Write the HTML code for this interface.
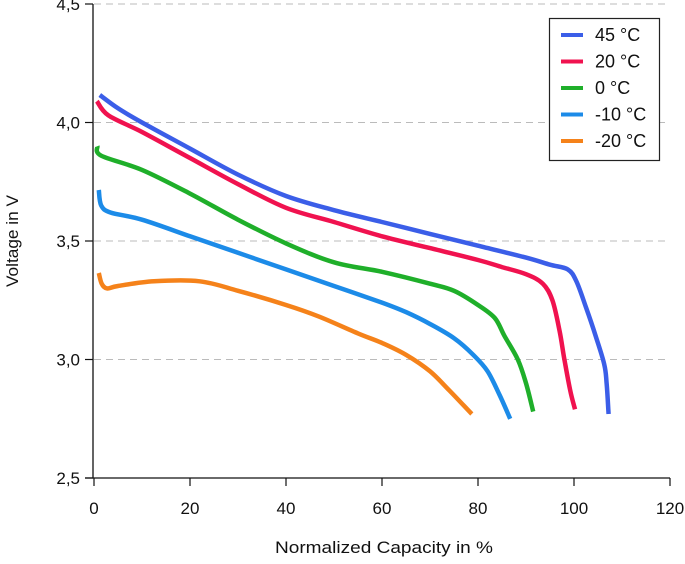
<!DOCTYPE html>
<html><head><meta charset="utf-8"><style>
html,body{margin:0;padding:0;background:#fff;}
svg text{font-family:"Liberation Sans",sans-serif;fill:#111;}
</style></head><body>
<svg id="chart" width="685" height="559" viewBox="0 0 685 559" xmlns="http://www.w3.org/2000/svg">
<g id="grid"></g>
<g id="axes"></g>
<g id="series"></g>
<text x="384" y="553" text-anchor="middle" font-size="17" textLength="218" lengthAdjust="spacingAndGlyphs">Normalized Capacity in %</text>
<text transform="translate(18,241) rotate(-90)" text-anchor="middle" font-size="17" textLength="92" lengthAdjust="spacingAndGlyphs">Voltage in V</text>
<g>
<rect x="549.5" y="18.5" width="110" height="142" fill="#fff" stroke="#222" stroke-width="1.2"/>
<g id="legend-items"></g>
</g>
</svg>
<script>
const xTicks=[0,20,40,60,80,100,120];
const yTicks=[2.5,3.0,3.5,4.0,4.5];
const yTickLabels=["2,5","3,0","3,5","4,0","4,5"];
const seriesNames=["45 °C","20 °C","0 °C","-10 °C","-20 °C"];
const seriesColors=["#3b5ee8","#f0124f","#1faf2a","#1c8be8","#f5821a"];
const cap45=[1.2,5,10,20,30,40,50,60,70,80,90,95,98.7,100.5,102.5,104.5,106.3,106.8,107.2];
const volt45=[4.116,4.06,4.0,3.89,3.78,3.69,3.63,3.58,3.53,3.48,3.43,3.40,3.38,3.33,3.22,3.10,2.98,2.90,2.77];
const cap20=[0.6,3,10,20,30,40,50,60,70,80,85,90,93.5,95.5,97,98,99.2,100.2];
const volt20=[4.09,4.03,3.96,3.85,3.74,3.64,3.58,3.52,3.47,3.42,3.39,3.36,3.32,3.25,3.12,3.0,2.87,2.79];
const cap0=[0.7,1.5,10,20,30,40,50,60,70,75,80,83.5,85.5,88.3,90,91.5];
const volt0=[3.9,3.86,3.80,3.70,3.59,3.49,3.41,3.37,3.32,3.29,3.23,3.175,3.10,3.0,2.9,2.78];
const capM10=[1,1.5,3.5,10,20,30,40,50,60,65,70,75,79,82,84.5,86.7];
const voltM10=[3.715,3.65,3.62,3.59,3.52,3.45,3.38,3.31,3.24,3.20,3.15,3.09,3.02,2.95,2.85,2.75];
const capM20=[1,1.6,2.7,5,12.5,22,30,40,47,55,60,65,70,74,78.7];
const voltM20=[3.365,3.32,3.30,3.31,3.33,3.33,3.29,3.23,3.18,3.11,3.07,3.02,2.95,2.87,2.77];
const seriesCaps=[cap45,cap20,cap0,capM10,capM20];
const seriesVolts=[volt45,volt20,volt0,voltM10,voltM20];

const NS="http://www.w3.org/2000/svg";
const X=v=>94+v*4.8;
const Y=v=>478-(v-2.5)*237;
function mk(t,a,p){const e=document.createElementNS(NS,t);for(const k in a)e.setAttribute(k,a[k]);p.appendChild(e);return e;}
function smooth(P){let d='M'+P[0][0].toFixed(1)+','+P[0][1].toFixed(1);
  for(let i=0;i<P.length-1;i++){const p0=P[Math.max(0,i-1)],p1=P[i],p2=P[i+1],p3=P[Math.min(P.length-1,i+2)];
    const c1=[p1[0]+(p2[0]-p0[0])/6,p1[1]+(p2[1]-p0[1])/6],c2=[p2[0]-(p3[0]-p1[0])/6,p2[1]-(p3[1]-p1[1])/6];
    d+=' C'+c1.map(v=>v.toFixed(1)).join(',')+' '+c2.map(v=>v.toFixed(1)).join(',')+' '+p2.map(v=>v.toFixed(1)).join(',');}
  return d;}
const grid=document.getElementById('grid'),axes=document.getElementById('axes'),ser=document.getElementById('series'),leg=document.getElementById('legend-items');
yTicks.forEach((t,i)=>{
  if(i>0){const g=mk('line',{x1:94,x2:668,y1:Y(t),y2:Y(t),stroke:'#bbb','stroke-width':1,'stroke-dasharray':'7,5'},grid);
  
  }
  const tk=mk('line',{x1:85,x2:93,y1:Y(t),y2:Y(t),stroke:'#111','stroke-width':1.2},axes);
  
  
  const tx=mk('text',{x:80,y:Y(t)+6,'text-anchor':'end','font-size':17},axes);tx.textContent=yTickLabels[i];
  
  
});
xTicks.forEach(t=>{
  const tk=mk('line',{x1:X(t),x2:X(t),y1:478,y2:486,stroke:'#111','stroke-width':1.2},axes);
  
  
  const tx=mk('text',{x:X(t),y:514,'text-anchor':'middle','font-size':17},axes);tx.textContent=String(t);
  
  
});
const ya=mk('line',{x1:93,x2:93,y1:4,y2:478,stroke:'#111','stroke-width':1.3},axes);


const xa=mk('line',{x1:85,x2:X(120),y1:478,y2:478,stroke:'#111','stroke-width':1.3},axes);


seriesNames.forEach((n,i)=>{
  const P=seriesCaps[i].map((c,j)=>[X(c),Y(seriesVolts[i][j])]);
  const pl=mk('path',{d:smooth(P),fill:'none',stroke:seriesColors[i],'stroke-width':4.5,'stroke-linejoin':'round','stroke-linecap':'butt'},ser);
  
  
  const ly=35+i*26.5;
  const ll=mk('line',{x1:561,x2:583,y1:ly,y2:ly,stroke:seriesColors[i],'stroke-width':4},leg);
  
  
  const lt=mk('text',{x:595,y:ly+6,'font-size':18},leg);lt.textContent=n;
  
  
});
</script>
</body></html>
